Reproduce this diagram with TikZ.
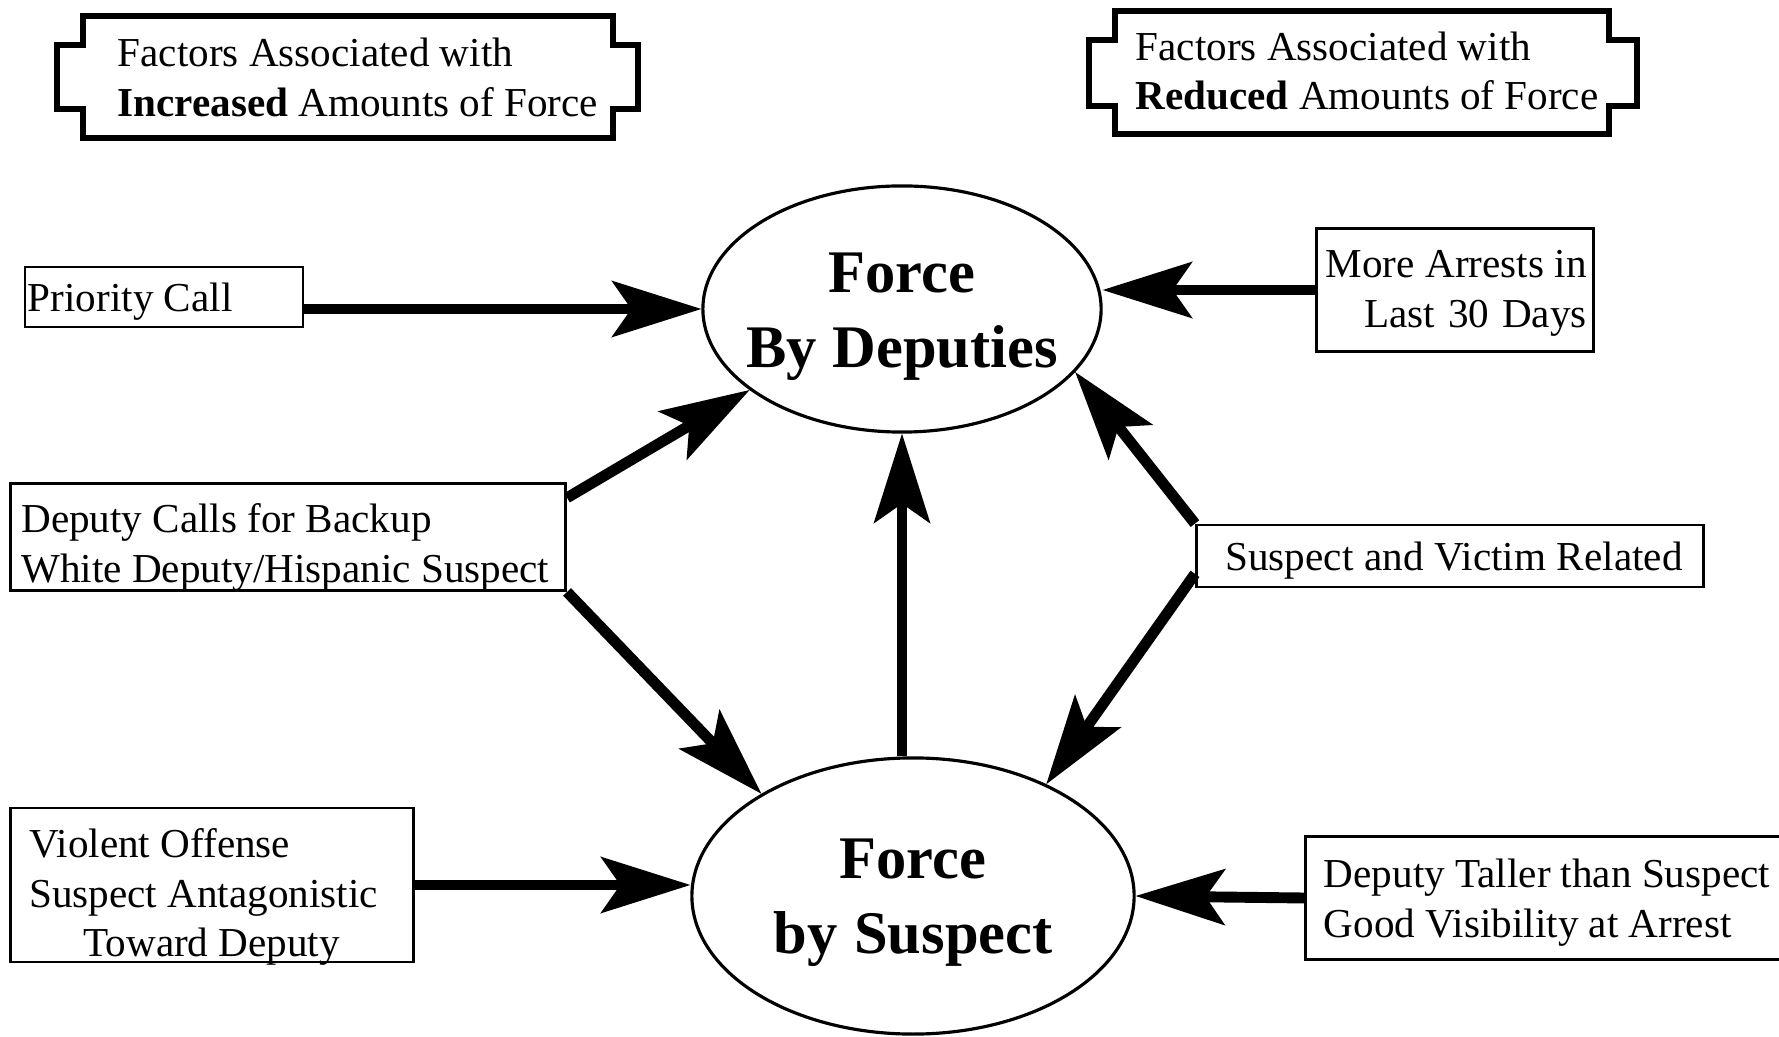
\documentclass[tikz,border=0pt]{standalone}
\usepackage{fontspec}
\setmainfont{Liberation Serif}
\usetikzlibrary{arrows.meta,shapes.geometric}

\begin{document}
\begin{tikzpicture}[x=0.01cm, y=-0.01cm,
		factor/.style={draw, line width=0.8pt, inner ysep=0pt, font=\fontsize{11.7}{14.2}\selectfont,
			execute at begin node={\spaceskip=0pt\xspaceskip=0pt\hyphenpenalty=10000}},
		force/.style={draw, ellipse, line width=0.9pt, inner xsep=-0.6cm, inner ysep=-0.4cm, text width=3.4cm, align=center, font=\fontsize{17.2}{21.4}\selectfont\bfseries,
			execute at begin node={\spaceskip=0pt\xspaceskip=0pt\hyphenpenalty=10000}},
		drop/.style={execute at end node={\endgraf\vspace*{-#1}}},
		heading/.style={anchor=west, inner sep=0pt, align=left, font=\fontsize{11.7}{14.2}\selectfont},
		tab/.style={line width=1.7pt},
		push/.style={line width=3.1pt, -{Stealth[length=0.9cm, width=0.57cm, inset=0.2cm, line width=0pt]}}]
	\useasboundingbox (0,0) rectangle (1779,1037);
	% headings
	\draw[tab] (83,16) -- (613,16) -- (613,45) -- (638,45) -- (638,109) -- (613,109) -- (613,138) -- (83,138) -- (83,109) -- (57,109) -- (57,45) -- (83,45) -- cycle;
	\node[heading] (hdinc) at (117,77) {Factors Associated with\\\textbf{Increased} Amounts of Force};
	\draw[tab] (1115,11) -- (1609,11) -- (1609,40) -- (1637,40) -- (1637,106) -- (1609,106) -- (1609,134) -- (1115,134) -- (1115,106) -- (1089,106) -- (1089,40) -- (1115,40) -- cycle;
	\node[heading] (hdred) at (1135,71) {Factors Associated with\\\textbf{Reduced} Amounts of Force};
	% the two outcomes
	\node[force, drop=0.16cm, minimum width=3.98cm, minimum height=2.46cm] (dep) at (902,309) {Force\\By Deputies};
	\node[force, drop=0.14cm, minimum width=4.42cm, minimum height=2.76cm] (sus) at (913,896) {Force\\by Suspect};
	% factors
	\node[factor, drop=0.16cm, align=left, inner xsep=0.03cm, text width=2.72cm, minimum height=0.6cm] (prio) at (164,297) {Priority Call};
	\node[factor, drop=0.2cm, align=left, inner xsep=0.11cm, text width=5.33cm, minimum height=1.07cm] (backup) at (288,537) {Deputy Calls for Backup\\White Deputy/Hispanic Suspect};
	\node[factor, drop=0.24cm, align=left, inner xsep=0.19cm, text width=3.65cm, minimum height=1.54cm] (violent) at (212,885) {Violent Offense\\Suspect Antagonistic\\\hspace*{0.54cm}Toward Deputy};
	\node[factor, drop=0.06cm, align=right, inner xsep=0.07cm, text width=2.63cm, minimum height=1.23cm] (arrests) at (1455,290) {More Arrests in\\Last 30 Days};
	\node[factor, drop=0.2cm, align=center, inner xsep=0.135cm, text width=4.8cm, minimum height=0.62cm] (related) at (1450,556) {\hspace*{0.08cm}Suspect and Victim Related};
	\node[factor, drop=0.1cm, align=left, inner xsep=0.18cm, text width=4.6cm, minimum height=1.23cm] (taller) at (1554,898) {Deputy Taller than Suspect\\Good Visibility at Arrest};
	% arrows
	\draw[push] (prio.east |- dep.west) -- (dep.west);
	\draw[push] (arrests.west) -- (arrests.west -| dep.east);
	\draw[push] (backup.8) -- (dep.208);
	\draw[push] (backup.south east) -- (sus.146);
	\draw[push] (related.north west) -- (dep.340);
	\draw[push] (related.184) -- (sus.40);
	\draw[push] (dep.south |- sus.north) -- (dep.south);
	\draw[push] (violent.east) -- (violent.east -| sus.west);
	\draw[push] (taller.west) -- (sus.east);
\end{tikzpicture}
\end{document}
